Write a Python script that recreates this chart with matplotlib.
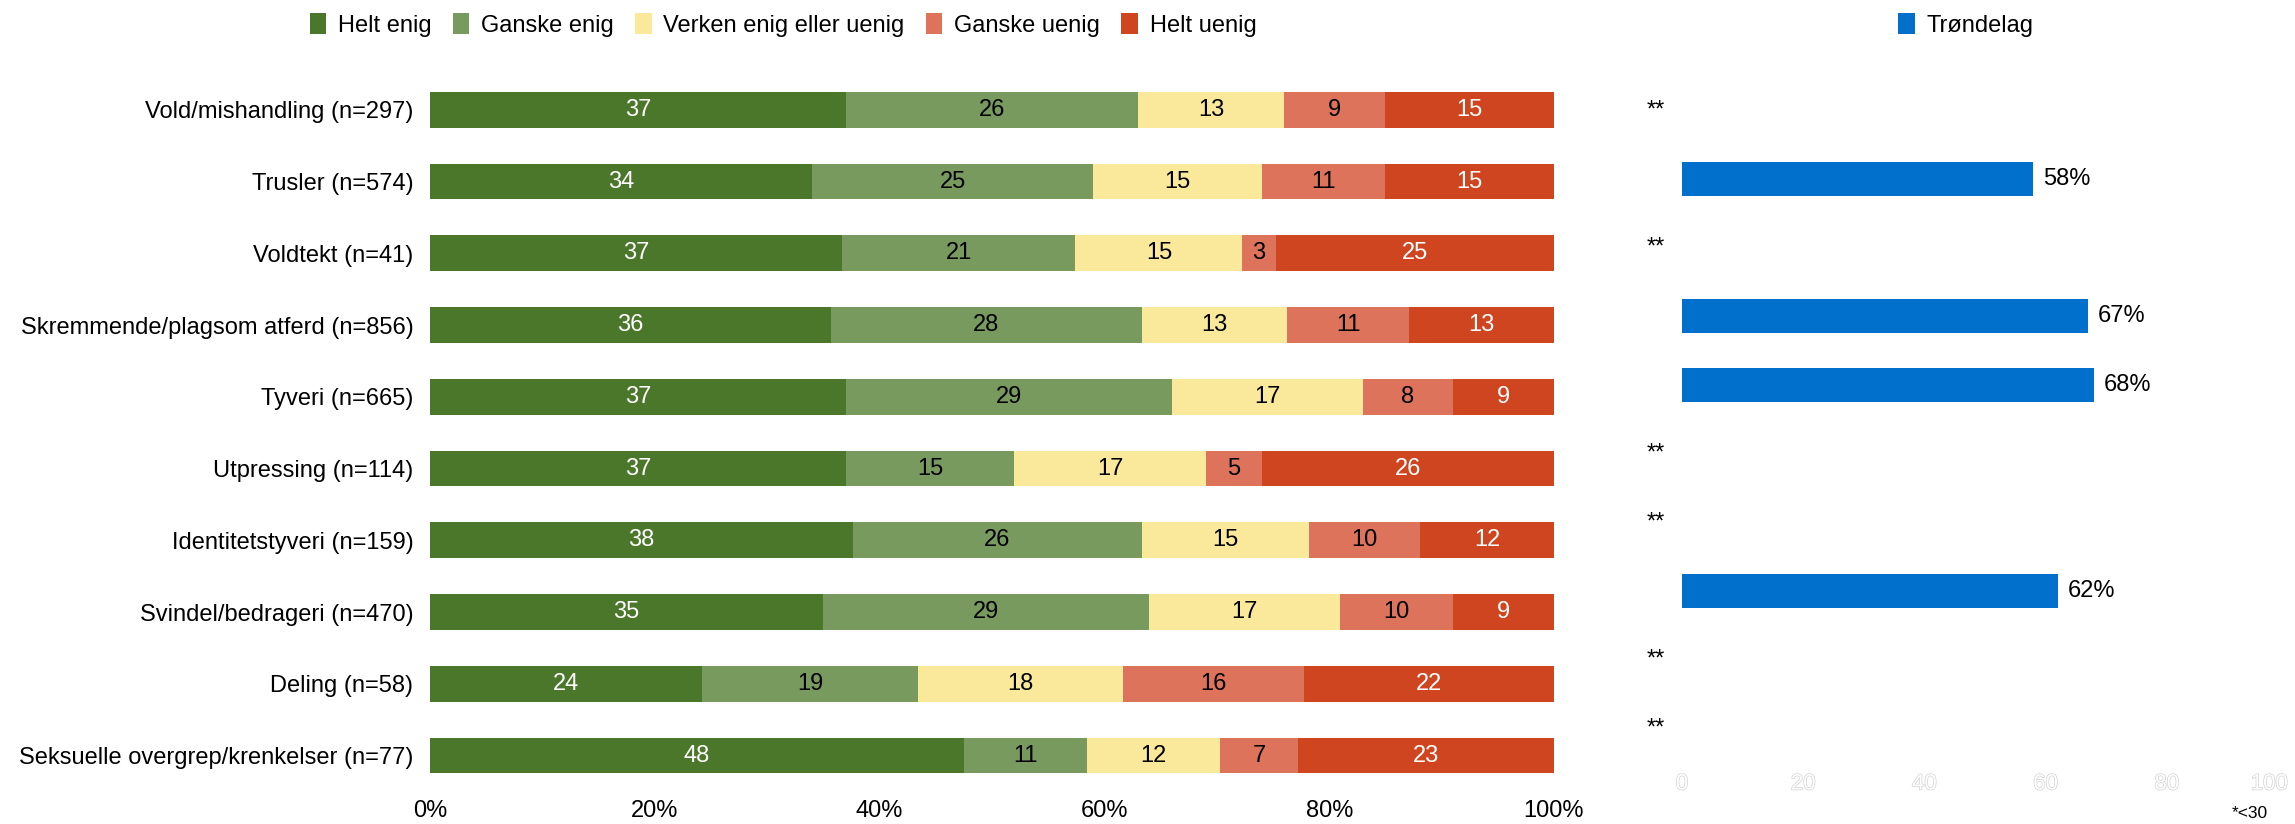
import numpy as np
import matplotlib
matplotlib.use("Agg")
import matplotlib.pyplot as plt
from matplotlib.patches import Patch
import matplotlib.patheffects as pe

plt.rcParams['font.family'] = ['Liberation Sans', 'DejaVu Sans']

categories = [
    "Vold/mishandling (n=297)",
    "Trusler (n=574)",
    "Voldtekt (n=41)",
    "Skremmende/plagsom atferd (n=856)",
    "Tyveri (n=665)",
    "Utpressing (n=114)",
    "Identitetstyveri (n=159)",
    "Svindel/bedrageri (n=470)",
    "Deling (n=58)",
    "Seksuelle overgrep/krenkelser (n=77)",
]
series_names = ["Helt enig", "Ganske enig", "Verken enig eller uenig", "Ganske uenig", "Helt uenig"]
helt_enig = [37, 34, 37, 36, 37, 37, 38, 35, 24, 48]
ganske_enig = [26, 25, 21, 28, 29, 15, 26, 29, 19, 11]
verken = [13, 15, 15, 13, 17, 17, 15, 17, 18, 12]
ganske_uenig = [9, 11, 3, 11, 8, 5, 10, 10, 16, 7]
helt_uenig = [15, 15, 25, 13, 9, 26, 12, 9, 22, 23]

trondelag = [np.nan, 58, np.nan, 67, 68, np.nan, np.nan, 62, np.nan, np.nan]
x_ticks_left = [0, 20, 40, 60, 80, 100]
x_ticks_right = [0, 20, 40, 60, 80, 100]

colors = ["#4a772a", "#789a5f", "#fae99a", "#dc735a", "#cf4520"]
text_colors = ["white", "black", "black", "black", "white"]
blue = "#0070cc"
FS = 17

fig = plt.figure(figsize=(22.95, 8.24), dpi=100)
ax = fig.add_axes([0.18736, 0.03956, 0.48976, 0.87076])
ax2 = fig.add_axes([0.73290, 0.07476, 0.26405, 0.83301])

data = np.array([helt_enig, ganske_enig, verken, ganske_uenig, helt_uenig], dtype=float)
totals = data.sum(axis=0)
norm = data / totals * 100
y = np.arange(len(categories))
left = np.zeros(len(categories))
for k in range(len(series_names)):
    ax.barh(y, norm[k], left=left, height=0.5, color=colors[k], linewidth=0)
    for i in range(len(categories)):
        ax.text(left[i] + norm[k][i] / 2, y[i], f"{int(data[k][i])}", ha='center', va='center',
                color=text_colors[k], fontsize=FS)
    left += norm[k]

ax.set_xlim(0, 100)
ax.set_ylim(len(categories) - 0.5, -0.5)
ax.set_yticks(y)
ax.set_yticklabels(categories, fontsize=FS)
ax.set_xticks(x_ticks_left)
ax.set_xticklabels([f"{t}%" for t in x_ticks_left], fontsize=FS)
ax.tick_params(axis='y', length=0, pad=12)
ax.tick_params(axis='x', length=0, pad=6)
for s in ax.spines.values():
    s.set_visible(False)

# Right panel
for i, v in enumerate(trondelag):
    if np.isnan(v):
        ax2.text(-2.8, i, "**", ha='right', va='center', fontsize=FS, color='black', clip_on=False)
    else:
        ax2.barh(i, v, height=0.5, color=blue, linewidth=0)
        ax2.text(v + 1.6, i, f"{int(v)}%", ha='left', va='center', fontsize=FS, color='black')

ax2.set_xlim(0, 100)
ax2.set_ylim(len(categories) - 0.5, -0.5)
ax2.set_yticks([])
ax2.set_xticks(x_ticks_right)
labs = ax2.set_xticklabels([str(t) for t in x_ticks_right], fontsize=16, color='white')
for t in labs:
    t.set_path_effects([pe.withStroke(linewidth=1.0, foreground='#d2d2d2')])
labs[-1].set_horizontalalignment('right')
ax2.tick_params(axis='x', length=0, pad=8)
for s in ax2.spines.values():
    s.set_visible(False)

handles = [Patch(facecolor=c, edgecolor='none') for c in colors]
fig.legend(handles, series_names, loc='center', bbox_to_anchor=(0.3412, 0.9697), ncol=5,
           frameon=False, handlelength=0.7, handleheight=1.0, handletextpad=0.5,
           columnspacing=0.9, fontsize=FS, borderpad=0, borderaxespad=0)
fig.legend([Patch(facecolor=blue, edgecolor='none')], ["Trøndelag"], loc='center',
           bbox_to_anchor=(0.8566, 0.9697), frameon=False, handlelength=0.7, handleheight=1.0,
           handletextpad=0.5, fontsize=FS, borderpad=0, borderaxespad=0)

fig.text(2250 / 2295, 1 - 813 / 824, "*<30", fontsize=12.5, ha='center', va='center')

fig.savefig("out.png", dpi=100)
